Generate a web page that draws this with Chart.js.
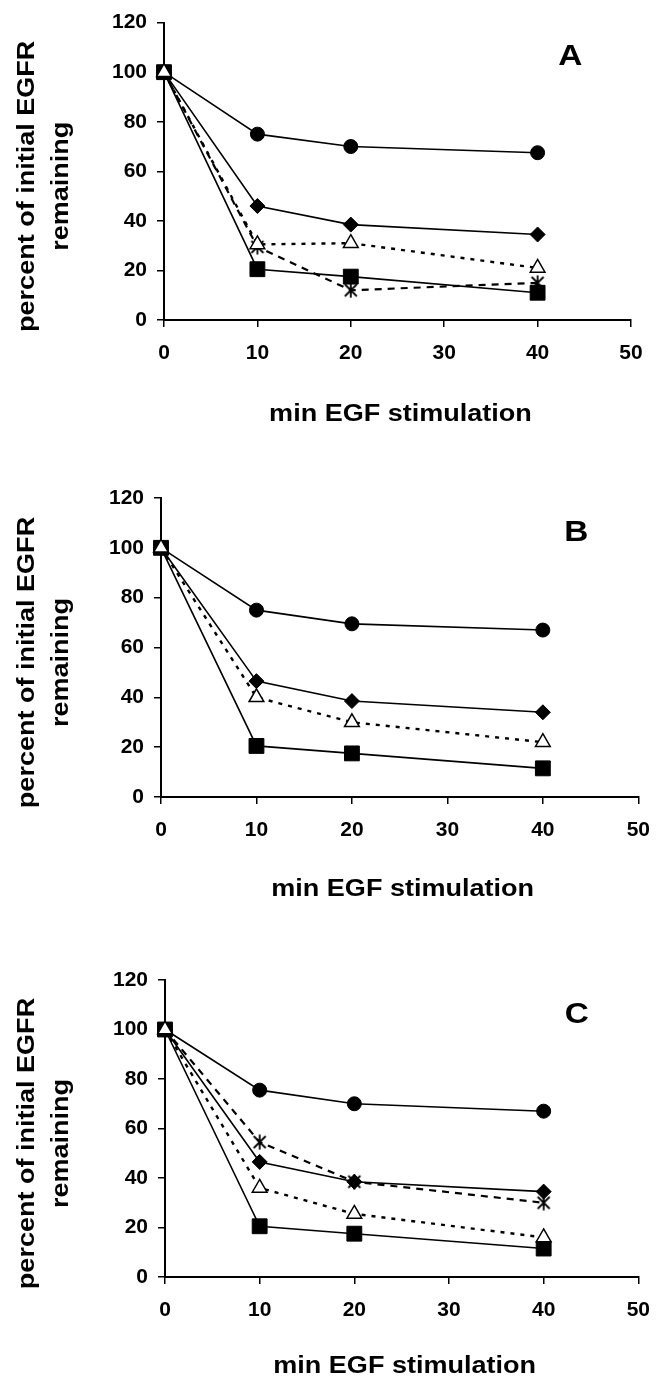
<!DOCTYPE html>
<html>
<head>
<meta charset="utf-8">
<script src="https://cdn.jsdelivr.net/npm/chart.js@4.4.0/dist/chart.umd.min.js"></script>
<style>
  body { margin: 0; background: #fff; }
  .panel { position: absolute; left: 0; width: 664px; height: 460px; }
</style>
</head>
<body>
<div class="panel" style="top:0px"><canvas id="chartA" width="664" height="460"></canvas></div>
<div class="panel" style="top:460px"><canvas id="chartB" width="664" height="460"></canvas></div>
<div class="panel" style="top:920px"><canvas id="chartC" width="664" height="460"></canvas></div>
<script>
var minutes = [0, 10, 20, 40];
var xTicks = [0, 10, 20, 30, 40, 50];
var yTicks = [0, 20, 40, 60, 80, 100, 120];
var xTitle = 'min EGF stimulation';
var yTitle = ['percent of initial EGFR', 'remaining'];

// panel A
var circleA = [100, 75, 70, 67.5];
var diamondA = [100, 46, 38.5, 34.5];
var triangleA = [100, 30.5, 31, 21];
var starA = [100, 29.5, 12, 15];
var squareA = [100, 20.5, 17.5, 11];

// panel B
var circleB = [100, 75, 69.5, 67];
var diamondB = [100, 46.5, 38.5, 34];
var triangleB = [100, 40, 30, 22];
var squareB = [100, 20.5, 17.5, 11.5];

// panel C
var circleC = [100, 75.5, 70, 67];
var starC = [100, 54.5, 38.5, 30];
var diamondC = [100, 46.5, 38.5, 34.5];
var triangleC = [100, 36, 25.5, 16];
var squareC = [100, 20.5, 17.5, 11.5];

var fontFamily = '"Liberation Sans", Arial, sans-serif';

// asterisk marker (X with a vertical bar)
var starMark = document.createElement('canvas');
starMark.width = 16;
starMark.height = 16;
var sc = starMark.getContext('2d');
sc.strokeStyle = '#000';
sc.lineWidth = 1.8;
sc.beginPath();
sc.moveTo(2, 2); sc.lineTo(14, 14);
sc.moveTo(14, 2); sc.lineTo(2, 14);
sc.moveTo(8, 0.5); sc.lineTo(8, 15.5);
sc.stroke();

function series(values, kind) {
    var ds = {
        data: minutes.map(function (m, i) { return { x: m, y: values[i] }; }),
        borderColor: '#000',
        borderWidth: 1.6,
        tension: 0,
        fill: false,
        clip: false,
        pointBorderColor: '#000',
        pointBackgroundColor: '#000',
        pointBorderWidth: 1
    };
    if (kind === 'circle') {
        ds.pointStyle = 'circle';
        ds.pointRadius = 7;
    } else if (kind === 'diamond') {
        ds.pointStyle = 'rectRot';
        ds.pointRadius = 7.5;
    } else if (kind === 'square') {
        ds.pointStyle = 'rect';
        ds.pointRadius = 10.5;
    } else if (kind === 'triangle') {
        ds.pointStyle = 'triangle';
        ds.pointRadius = 8.5;
        ds.pointBackgroundColor = '#fff';
        ds.pointBorderWidth = 1.5;
        ds.borderWidth = 2.4;
        ds.borderDash = [4, 6];
    } else if (kind === 'star') {
        ds.pointStyle = starMark;
        ds.borderWidth = 2.2;
        ds.borderDash = [7, 6];
    }
    return ds;
}

function drawText(ctx, text, x, y, rot) {
    ctx.save();
    ctx.translate(x, y);
    ctx.rotate(rot);
    ctx.scale(1.15, 1);
    ctx.fillText(text, 0, 0);
    ctx.restore();
}

var panelText = {
    id: 'panelText',
    afterDraw: function (chart, args, opts) {
        var ctx = chart.ctx;
        var area = chart.chartArea;
        ctx.save();
        ctx.fillStyle = '#000';
        ctx.textAlign = 'center';
        ctx.textBaseline = 'middle';
        ctx.font = 'bold 23.5px ' + fontFamily;
        var cy = (area.top + area.bottom) / 2 + opts.yShift;
        drawText(ctx, yTitle[0], 28, cy, -Math.PI / 2);
        drawText(ctx, yTitle[1], 62, cy, -Math.PI / 2);
        drawText(ctx, xTitle, (area.left + area.right) / 2 + 3, area.bottom + opts.xGap, 0);
        ctx.font = 'bold 29px ' + fontFamily;
        drawText(ctx, opts.letter, chart.scales.x.getPixelForValue(43.5), chart.scales.y.getPixelForValue(106), 0);
        ctx.restore();
    }
};

function makeChart(id, letter, box, datasets) {
    var ctx = document.getElementById(id).getContext('2d');
    var tickFont = { family: fontFamily, size: 21, weight: 'bold' };
    return new Chart(ctx, {
        type: 'line',
        data: { datasets: datasets },
        options: {
            responsive: false,
            animation: false,
            events: [],
            layout: { padding: { top: box.top, right: box.right, bottom: 0, left: 0 } },
            scales: {
                x: {
                    type: 'linear',
                    min: 0,
                    max: 50,
                    afterBuildTicks: function (s) { s.ticks = xTicks.map(function (v) { return { value: v }; }); },
                    afterFit: function (s) { s.height = 460 - box.bottom; },
                    grid: { drawOnChartArea: false, color: '#000', lineWidth: 1.5, tickLength: 7 },
                    border: { color: '#000', width: 2 },
                    ticks: { color: '#000', font: tickFont, padding: 14, maxRotation: 0 }
                },
                y: {
                    min: 0,
                    max: 120,
                    afterBuildTicks: function (s) { s.ticks = yTicks.map(function (v) { return { value: v }; }); },
                    afterFit: function (s) { s.width = box.left; },
                    grid: { drawOnChartArea: false, color: '#000', lineWidth: 1.5, tickLength: 7 },
                    border: { color: '#000', width: 2 },
                    ticks: { color: '#000', font: tickFont, padding: 10 }
                }
            },
            plugins: {
                legend: { display: false },
                tooltip: { enabled: false },
                panelText: { letter: letter, xGap: box.xGap, yShift: 15 }
            }
        },
        plugins: [panelText]
    });
}

makeChart('chartA', 'A', { left: 164, top: 21, right: 33, bottom: 320, xGap: 95 }, [
    series(triangleA, 'triangle'),
    series(starA, 'star'),
    series(circleA, 'circle'),
    series(diamondA, 'diamond'),
    series(squareA, 'square')
]);

makeChart('chartB', 'B', { left: 161, top: 38, right: 24, bottom: 337, xGap: 93 }, [
    series(triangleB, 'triangle'),
    series(circleB, 'circle'),
    series(diamondB, 'diamond'),
    series(squareB, 'square')
]);

makeChart('chartC', 'C', { left: 165, top: 60, right: 19, bottom: 357, xGap: 90 }, [
    series(triangleC, 'triangle'),
    series(starC, 'star'),
    series(circleC, 'circle'),
    series(diamondC, 'diamond'),
    series(squareC, 'square')
]);
</script>
</body>
</html>
